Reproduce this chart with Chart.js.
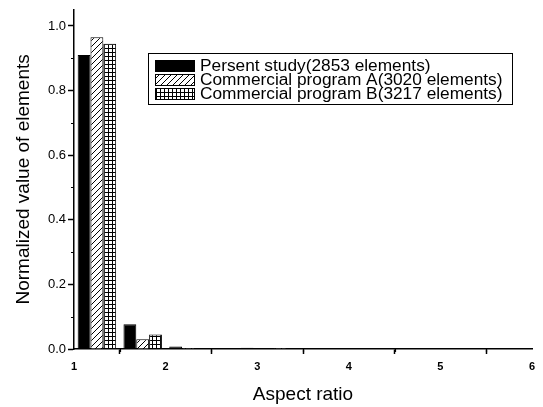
<!DOCTYPE html>
<html>
<head>
<meta charset="utf-8">
<script src="https://cdn.jsdelivr.net/npm/chart.js@4"></script>
<style>
  html, body { margin: 0; padding: 0; background: #fff; }
  #wrap { width: 543px; height: 407px; }
</style>
</head>
<body>
<div id="wrap"><canvas id="myChart" width="543" height="407"></canvas></div>
<script>
// bins of aspect ratio (start of each 0.5 wide bin)
var binStarts = [1.0, 1.5, 2.0, 2.5, 3.0, 3.5, 4.0, 4.5, 5.0, 5.5];
var xTicks = [1, 2, 3, 4, 5, 6];
var yTicks = [0.0, 0.2, 0.4, 0.6, 0.8, 1.0];

var presentStudy = [0.91, 0.077, 0.008, 0.002, 0.003, 0.001, 0.001, 0.001, 0.001, 0.001];
var programA     = [0.965, 0.030, 0.003, 0.002, 0.003, 0.001, 0.002, 0.001, 0.002, 0.001];
var programB     = [0.945, 0.045, 0.003, 0.004, 0.003, 0.002, 0.001, 0.002, 0.001, 0.002];

var labels = [
  "Persent study(2853 elements)",
  "Commercial program A(3020 elements)",
  "Commercial program B(3217 elements)"
];

var fontFamily = '"Liberation Sans", Arial, sans-serif';

// fill patterns
function makePattern(kind) {
  var c = document.createElement('canvas');
  var s = kind == 'hatch' ? 6 : 4;
  c.width = s; c.height = s;
  var g = c.getContext('2d');
  g.fillStyle = '#fff';
  g.fillRect(0, 0, s, s);
  g.strokeStyle = '#000';
  g.lineWidth = 1;
  g.beginPath();
  if (kind == 'hatch') {
    g.moveTo(-1, s + 1); g.lineTo(s + 1, -1);
    g.moveTo(-1, 1); g.lineTo(1, -1);
    g.moveTo(s - 1, s + 1); g.lineTo(s + 1, s - 1);
  } else {
    g.moveTo(0.5, 0); g.lineTo(0.5, s);
    g.moveTo(0, 0.5); g.lineTo(s, 0.5);
  }
  g.stroke();
  var ctx = document.getElementById('myChart').getContext('2d');
  return ctx.createPattern(c, 'repeat');
}

var fills = ['#000', makePattern('hatch'), makePattern('grid')];

function points(arr) {
  return arr.map(function (v, i) { return { x: binStarts[i] + 0.25, y: v }; });
}

var data = {
  datasets: [presentStudy, programA, programB].map(function (arr, i) {
    return {
      label: labels[i],
      data: points(arr),
      backgroundColor: fills[i],
      borderColor: '#000',
      borderWidth: 1,
      categoryPercentage: 0.84,
      barPercentage: 1.0
    };
  })
};

// minor ticks + legend box
var extras = {
  id: 'extras',
  afterDraw: function (chart) {
    var ctx = chart.ctx;
    var xs = chart.scales.x, ys = chart.scales.y;
    ctx.save();
    ctx.strokeStyle = '#000';
    ctx.lineWidth = 1.2;
    ctx.beginPath();
    for (var v = 1.5; v < 6; v += 1) {
      var px = Math.round(xs.getPixelForValue(v)) + 0.5;
      ctx.moveTo(px, xs.top); ctx.lineTo(px, xs.top + 3);
    }
    for (var w = 0.1; w < 1.05; w += 0.2) {
      var py = Math.round(ys.getPixelForValue(w)) + 0.5;
      ctx.moveTo(ys.right, py); ctx.lineTo(ys.right - 3, py);
    }
    ctx.stroke();

    // legend
    var bx = 148, by = 53, bw = 364, bh = 51;
    ctx.lineWidth = 1;
    ctx.strokeRect(bx + 0.5, by + 0.5, bw, bh);
    ctx.textBaseline = 'middle';
    var rows = [66, 80, 94];
    chart.data.datasets.forEach(function (ds, i) {
      var y = rows[i];
      ctx.fillStyle = ds.backgroundColor;
      ctx.fillRect(155, y - 6, 40, 12);
      ctx.strokeRect(155.5, y - 5.5, 39, 11);
      ctx.save();
      ctx.translate(200, y + 1);
      ctx.scale(1.08, 1);
      ctx.font = '16px ' + fontFamily;
      ctx.fillStyle = '#000';
      ctx.fillText(ds.label, 0, 0);
      ctx.restore();
    });
    ctx.restore();
  }
};

var options = {
  responsive: false,
  animation: false,
  layout: { padding: { left: 0, right: 11, top: 5, bottom: 0 } },
  plugins: { legend: { display: false }, tooltip: { enabled: false } },
  scales: {
    x: {
      type: 'linear',
      min: 1, max: 6,
      offset: false,
      afterBuildTicks: function (s) { s.ticks = xTicks.map(function (v) { return { value: v }; }); },
      afterFit: function (s) { s.height = 58; },
      border: { display: true, color: '#000', width: 1.5 },
      grid: { drawOnChartArea: false, drawTicks: true, tickLength: 5, color: '#000', tickWidth: 1.5 },
      ticks: {
        color: '#000',
        padding: 6,
        maxRotation: 0,
        font: { family: fontFamily, size: 11, weight: 'bold' },
        callback: function (v) { return v; }
      },
      title: {
        display: true,
        text: 'Aspect ratio',
        color: '#000',
        padding: { top: 4, bottom: 1 },
        font: { family: fontFamily, size: 19 }
      }
    },
    y: {
      min: 0, max: 1.05,
      afterBuildTicks: function (s) { s.ticks = yTicks.map(function (v) { return { value: v }; }); },
      afterFit: function (s) { s.width = 74; },
      border: { display: true, color: '#000', width: 1.5 },
      grid: { drawOnChartArea: false, drawTicks: true, tickLength: 6, color: '#000', tickWidth: 1.5 },
      ticks: {
        color: '#000',
        padding: 2,
        font: { family: fontFamily, size: 13 },
        callback: function (v) { return v.toFixed(1); }
      },
      title: {
        display: true,
        text: 'Normalized value of elements',
        color: '#000',
        padding: { top: 12, bottom: 6 },
        font: { family: fontFamily, size: 19 }
      }
    }
  }
};

var myChart = new Chart(document.getElementById('myChart'), {
  type: 'bar',
  data: data,
  options: options,
  plugins: [extras]
});
</script>
</body>
</html>
